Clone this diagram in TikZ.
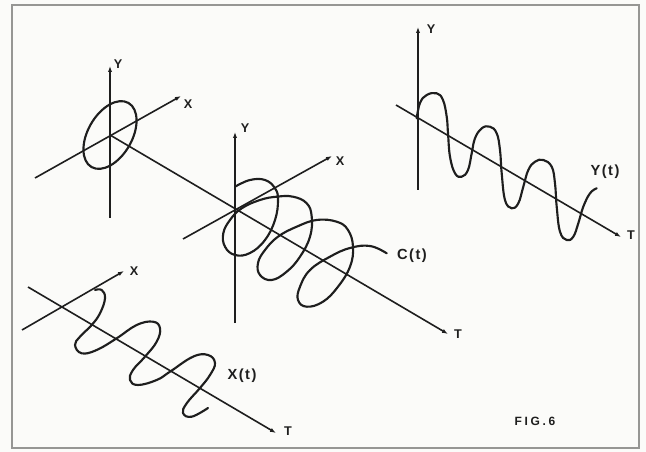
\documentclass[tikz,border=0pt]{standalone}
\usepackage{fontspec}
\usepackage{tikz}
\usetikzlibrary{arrows.meta}
\usepackage{xcolor}
\newfontfamily\figfont[LetterSpace=10]{Liberation Sans}
\newfontfamily\capfont[LetterSpace=22]{Liberation Sans}
\definecolor{ink}{RGB}{30,30,30}
\definecolor{framegray}{RGB}{150,150,148}
\definecolor{paper}{RGB}{251,251,249}

\begin{document}
\begin{tikzpicture}[x=0.75pt,y=-0.75pt,
  axis/.style={draw=ink,line width=1.2pt,-{Latex[length=4.5pt,width=3.2pt]}},
  trace/.style={draw=ink,line width=1.6pt,line cap=round,line join=round},
  lbl/.style={text=ink,inner sep=0pt,font={\figfont\bfseries\fontsize{9.5}{11}\selectfont}},
  funlbl/.style={lbl,font={\figfont\bfseries\fontsize{11}{13}\selectfont}}]
\fill[paper] (0,0) rectangle (646,452);
\draw[framegray,line width=1.5pt] (12,5) rectangle (639,448);

% circle at t = 0
\coordinate (o1) at (110,135);
\coordinate (y1a) at (110,218);
\coordinate (y1) at (110,66);
\coordinate (x1a) at (35,178);
\coordinate (x1) at (181,96);
\coordinate (t2) at (448,334);
\draw[axis] (y1a) -- (y1);
\draw[axis] (x1a) -- (x1);
\draw[axis] (o1) -- (t2);
\draw[trace,rotate around={60:(o1)}] (o1) ellipse (37 and 22);
\node[lbl] (ly1) at (118,64) {Y};
\node[lbl] (lx1) at (188,104) {X};

% helix c(t)
\coordinate (o2) at (235,209);
\coordinate (y2a) at (235,323);
\coordinate (y2) at (235,132);
\coordinate (x2a) at (183,239);
\coordinate (x2) at (332,156);
\draw[axis] (y2a) -- (y2);
\draw[axis] (x2a) -- (x2);
\draw[trace] plot[smooth,tension=0.7] coordinates {
  (235,186.7) (250,180) (265,180) (275,188.3) (278,200) (275,220) (265,240)
  (250,253) (235,255) (225,246.7) (223.3,233.3) (230,220) (241.7,208.3)
  (260,200) (276.7,196.7) (293,196.7) (306.7,203.3) (311.7,216.7) (310,236.7)
  (300,256.7) (286.7,271.7) (271.7,280) (260,275) (258,263) (265,250)
  (278,236.7) (296.7,226.7) (316.7,220) (336.7,221.7) (348,230) (353,246.7)
  (350,266.7) (338,286.7) (323,301.7) (306.7,306.7) (298,300) (300,286.7)
  (310,270) (330,256.7) (350,248) (370,246) (386.7,253.3)};
\node[lbl] (ly2) at (245,128) {Y};
\node[lbl] (lx2) at (340,161) {X};
\node[lbl] (lt2) at (458,334) {T};
\node[funlbl] (lc) at (412,256) {C(t)};

% y(t)
\coordinate (y3a) at (418,190);
\coordinate (y3) at (418,27);
\coordinate (t3a) at (396,105);
\coordinate (t3) at (621,237);
\draw[axis] (y3a) -- (y3);
\draw[axis] (t3a) -- (t3);
\draw[trace] plot[smooth,tension=0.7] coordinates {
  (416.7,118.3) (420,103) (426.7,95) (436.7,93.3) (443,100) (446.7,116.7)
  (448,133) (450,156.7) (455,173.3) (461.7,176.7) (468,170) (471.7,153.3)
  (475,138.3) (481.7,128.3) (490,126.7) (496.7,133.3) (500,150) (501.7,173.3)
  (505,200) (511.7,208.3) (518.3,203.3) (523.3,186.7) (528.3,170) (535,161.7)
  (543.3,160) (551.7,166.7) (555,183.3) (556.7,206.7) (560,231.7) (566.7,240)
  (573.3,236.7) (578.3,223.3) (583.3,206.7) (590,193.3) (596.7,188.3)};
\node[lbl] (ly3) at (431,29) {Y};
\node[lbl] (lt3) at (631,235) {T};
\node[funlbl] (ly) at (605,172) {Y(t)};

% x(t)
\coordinate (x4a) at (22,330);
\coordinate (x4) at (124,271);
\coordinate (t4a) at (28,287);
\coordinate (t4) at (276,433);
\draw[axis] (x4a) -- (x4);
\draw[axis] (t4a) -- (t4);
\draw[trace] plot[smooth,tension=0.7] coordinates {
  (95,290) (101.7,290) (105,298.3) (100,313.3) (91.7,325) (80,336.7) (75,345)
  (81.7,353.3) (96.7,350) (116.7,338.3) (136.7,325) (153,321.7) (160,328.3)
  (156.7,341.7) (145,356.7) (133,370) (130,380) (138,385) (156.7,380)
  (170,371.7) (193,356.7) (208,355) (215,363) (210,375) (200,388)
  (186.7,403.3) (183,413) (191.7,416.7) (208,408)};
\node[lbl] (lx4) at (134,271) {X};
\node[lbl] (lt4) at (288,431) {T};
\node[funlbl] (lx) at (242,376) {X(t)};

\node[text=ink,inner sep=0pt,font={\capfont\bfseries\fontsize{9}{10}\selectfont}] (fig) at (535,421) {FIG.6};
\end{tikzpicture}
\end{document}
